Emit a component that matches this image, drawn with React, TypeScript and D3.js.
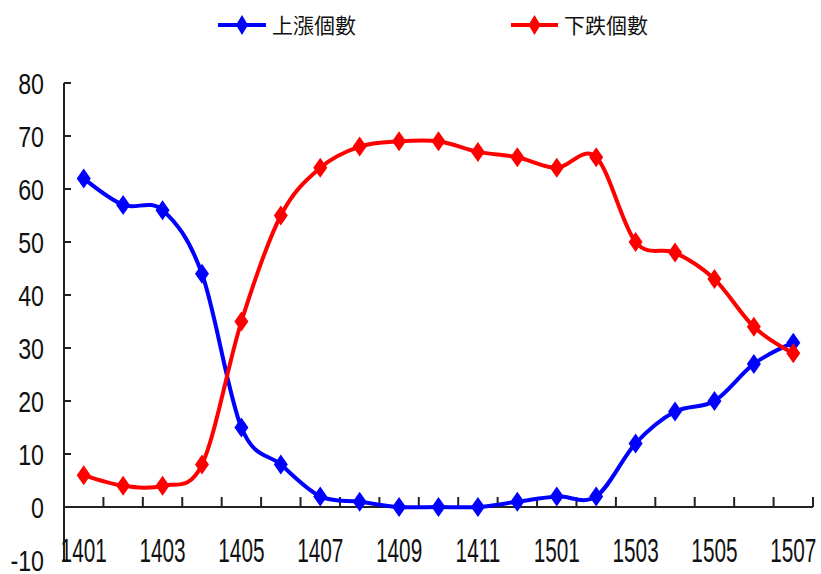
import React from "react";
import * as d3 from "d3";

const categories = ["1401","1402","1403","1404","1405","1406","1407","1408","1409","1410","1411","1412","1501","1502","1503","1504","1505","1506","1507"];
const upValues = [62, 57, 56, 44, 15, 8, 2, 1, 0, 0, 0, 1, 2, 2, 12, 18, 20, 27, 31];
const downValues = [6, 4, 4, 8, 35, 55, 64, 68, 69, 69, 67, 66, 64, 66, 50, 48, 43, 34, 29];
const yTicks = [80, 70, 60, 50, 40, 30, 20, 10, 0, -10];
const xLabels = ["1401","1403","1405","1407","1409","1411","1501","1503","1505","1507"];
const seriesNames = ["上漲個數", "下跌個數"];

const W = 821, H = 574;
const left = 64, right = 813, top = 83, bottom = 560;

export default function App() {
  const x = d3.scaleBand<string>().domain(categories).range([left, right]).padding(0);
  const y = d3.scaleLinear().domain([-10, 80]).range([bottom, top]);
  const cx = (c: string) => (x(c) as number) + x.bandwidth() / 2;
  const line = d3.line<number>()
    .x((_, i) => cx(categories[i]))
    .y((v) => y(v))
    .curve(d3.curveCardinal.tension(0));
  const diamond = (px: number, py: number, w = 14, h = 20) =>
    `M${px},${py - h / 2}L${px + w / 2},${py}L${px},${py + h / 2}L${px - w / 2},${py}Z`;
  const series = [
    { name: seriesNames[0], values: upValues, color: "#0000FF", lx: 218, lx2: 266 },
    { name: seriesNames[1], values: downValues, color: "#FF0000", lx: 511, lx2: 558 },
  ];
  const y0 = y(0);
  const boundaries = d3.range(1, categories.length + 1).map((k) => left + k * x.bandwidth());
  const numFont = "'Liberation Sans', Arial, sans-serif";
  return (
    <svg width={W} height={H} style={{ display: "block", position: "absolute", left: 0, top: 0 }}>
      <rect width={W} height={H} fill="#fff" />
      {/* legend */}
      {series.map((s) => (
        <g key={s.name}>
          <line x1={s.lx} x2={s.lx2} y1={25} y2={25} stroke={s.color} strokeWidth={4} />
          <path d={diamond((s.lx + s.lx2) / 2, 25, 12, 20)} fill={s.color} />
          <text x={s.lx2 + 6} y={33} fontSize={21} fontFamily="'Noto Sans CJK TC', sans-serif" fill="#111">{s.name}</text>
        </g>
      ))}
      {/* y axis */}
      <line x1={left} x2={left} y1={top} y2={bottom} stroke="#222" strokeWidth={2} />
      {yTicks.filter((t) => t >= 0).map((t) => (
        <line key={"yt" + t} x1={left} x2={left + 7} y1={y(t)} y2={y(t)} stroke="#222" strokeWidth={2} />
      ))}
      {yTicks.map((t) => (
        <g key={"yl" + t} transform={`translate(44,${y(t) + 10.5}) scale(0.8,1)`}>
          <text x={0} y={0} textAnchor="end" fontSize={29} fontFamily={numFont} fill="#111">{t}</text>
        </g>
      ))}
      {/* x axis */}
      <line x1={left} x2={right} y1={y0} y2={y0} stroke="#222" strokeWidth={2} />
      {boundaries.map((b, i) => (
        <line key={"xt" + i} x1={b} x2={b} y1={y0} y2={y0 - 10} stroke="#222" strokeWidth={2} />
      ))}
      {xLabels.map((c) => (
        <g key={"xl" + c} transform={`translate(${cx(c)},562) scale(0.63,1)`}>
          <text x={0} y={0} textAnchor="middle" fontSize={33} fontFamily={numFont} fill="#111">{c}</text>
        </g>
      ))}
      {/* series */}
      {series.map((s) => (
        <g key={"s" + s.name}>
          <path d={line(s.values) || ""} fill="none" stroke={s.color} strokeWidth={4} />
          {s.values.map((v, i) => (
            <path key={i} d={diamond(cx(categories[i]), y(v))} fill={s.color} />
          ))}
        </g>
      ))}
    </svg>
  );
}
